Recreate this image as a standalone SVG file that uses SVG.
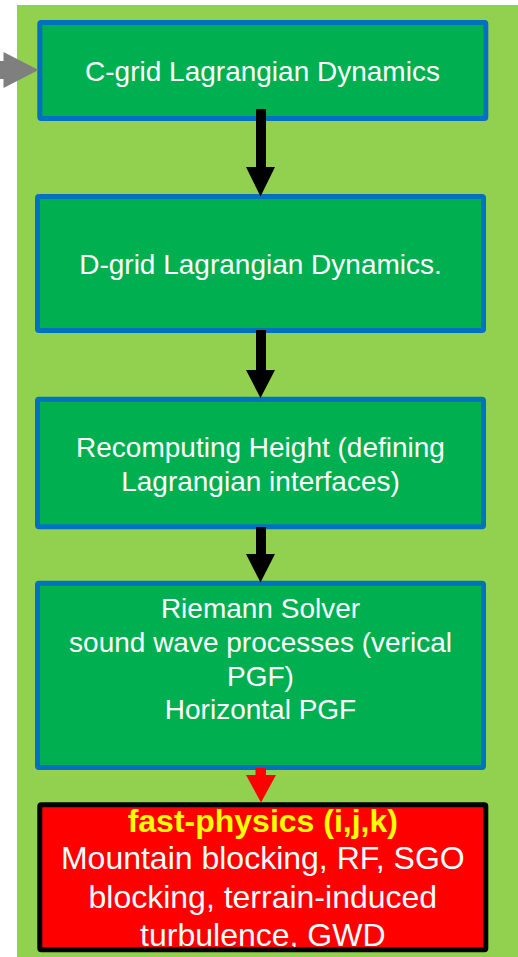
<svg xmlns="http://www.w3.org/2000/svg" width="518" height="957" viewBox="0 0 518 957">
  <style>
    .step { fill: #00B050; stroke: #0070C0; stroke-width: 5; }
    .lbl { font-family: "Liberation Sans", Arial, sans-serif; font-size: 28px; fill: #FFFFFF; text-anchor: middle; }
    .phys { font-family: "Liberation Sans", Arial, sans-serif; font-size: 32px; fill: #FFFFFF; text-anchor: middle; }
    .phys-title { font-weight: bold; fill: #FFFF00; }
    .flow { fill: #000000; }
  </style>

  <!-- background panel -->
  <rect x="0" y="0" width="518" height="957" fill="#FFFFFF"/>
  <rect x="17" y="5" width="501" height="952" fill="#92D050"/>

  <g id="c-grid">
    <rect class="step" x="39.8" y="22.5" width="446" height="96" rx="1.5"/>
    <text class="lbl" x="262.5" y="81">C-grid Lagrangian Dynamics</text>
  </g>

  <g id="d-grid">
    <rect class="step" x="37.5" y="196.5" width="446" height="134" rx="1.5"/>
    <text class="lbl" x="260.5" y="274.3">D-grid Lagrangian Dynamics.</text>
  </g>

  <g id="height">
    <rect class="step" x="37.5" y="399.2" width="446" height="127.6" rx="1.5"/>
    <text class="lbl" x="260.5" y="456.7">Recomputing Height (defining</text>
    <text class="lbl" x="260.5" y="490.5">Lagrangian interfaces)</text>
  </g>

  <g id="riemann">
    <rect class="step" x="37.5" y="583.2" width="446" height="184.3" rx="1.5"/>
    <text class="lbl" x="260.5" y="618.3">Riemann Solver</text>
    <text class="lbl" x="260.5" y="652">sound wave processes (verical</text>
    <text class="lbl" x="260.5" y="685.6">PGF)</text>
    <text class="lbl" x="260.5" y="719.2">Horizontal PGF</text>
  </g>

  <g id="fast-physics">
    <rect x="39.8" y="804.8" width="446" height="145" fill="#FF0000"/>
    <text class="phys phys-title" x="262.8" y="831.7">fast-physics (i,j,k)</text>
    <text class="phys" x="262.8" y="869.3">Mountain blocking, RF, SGO</text>
    <text class="phys" x="262.8" y="907.5">blocking, terrain-induced</text>
    <text class="phys" x="262.8" y="945.5">turbulence, GWD</text>
    <rect x="39.8" y="804.8" width="446" height="145" rx="1.5" fill="none" stroke="#000000" stroke-width="5"/>
  </g>

  <g id="connectors">
    <!-- incoming arrow -->
    <polygon fill="#7F7F7F" points="0,61 3.5,61 3.5,52 38.5,70 3.5,88 3.5,79 0,79"/>
    <polygon class="flow" points="256,109 266,109 266,167 275,167 260.5,196.5 246,167 256,167"/>
    <polygon class="flow" points="256,330 266,330 266,370 275,370 260.5,398 246,370 256,370"/>
    <polygon class="flow" points="256,527 266,527 266,554 275,554 260.5,582.5 246,554 256,554"/>
    <polygon fill="#FF0000" points="255.5,768 266,768 266,775 276,775 261,802.5 246,775 255.5,775"/>
  </g>
</svg>
